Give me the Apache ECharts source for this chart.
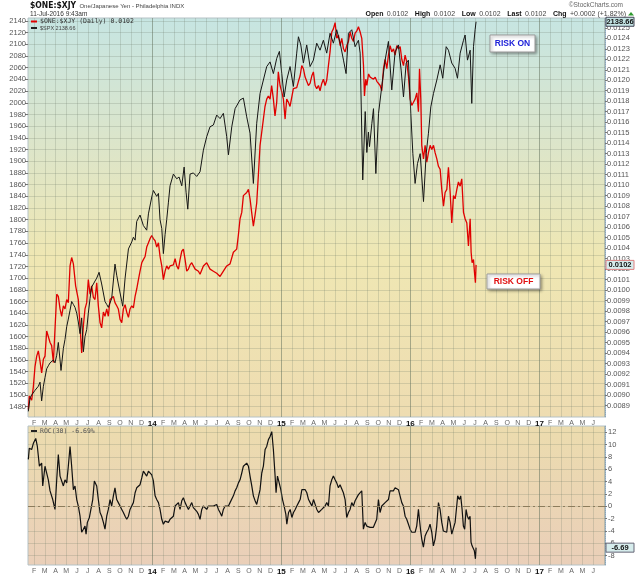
<!DOCTYPE html>
<html><head><meta charset="utf-8">
<script src="https://cdn.jsdelivr.net/npm/echarts@6/dist/echarts.min.js"></script>
<style>html,body{margin:0;padding:0;background:#fff}#c{width:640px;height:576px}</style>
</head><body><div id="c"></div>
<script>
// x positions are in months since 1 Jan 2013
const spxMonth = [0.47,0.63,0.78,0.94,1.09,1.25,1.40,1.56,1.71,1.87,
2.02,2.18,2.33,2.49,2.64,2.80,2.95,3.11,3.26,3.42,
3.51,3.73,3.88,4.04,4.19,4.35,4.50,4.66,4.81,4.97,
5.12,5.28,5.43,5.59,5.74,5.90,6.05,6.21,6.36,6.52,
6.67,6.83,7.05,7.29,7.60,7.76,7.91,8.22,8.53,8.69,
8.84,9.16,9.25,9.47,9.78,10.09,10.24,10.40,10.55,10.86,
11.17,11.48,11.64,11.95,12.10,12.41,12.57,12.72,12.88,13.03,
13.19,13.34,13.50,13.65,13.96,14.27,14.49,14.74,14.96,15.14,
15.30,15.51,15.82,16.13,16.44,16.75,17.06,17.37,17.68,17.99,
18.30,18.61,18.92,19.08,19.39,19.70,20.16,20.47,20.78,21.09,
21.40,21.71,22.02,22.33,22.64,22.95,23.26,23.57,23.82,24.04,
24.26,24.50,24.81,25.12,25.43,25.59,25.81,26.05,26.36,26.67,
26.98,27.29,27.60,27.91,28.22,28.53,28.84,29.15,29.47,29.78,
30.02,30.24,30.55,30.86,31.17,31.33,31.57,31.80,31.95,32.10,
32.20,32.42,32.57,32.79,33.04,33.34,33.65,33.96,34.27,34.58,
34.89,35.14,35.36,35.61,35.82,36.04,36.23,36.44,36.66,36.91,
37.22,37.47,37.68,37.90,38.15,38.46,38.77,39.01,39.33,39.54,
39.85,40.16,40.38,40.63,40.94,41.09,41.31,41.56,41.71,41.87,
42.02,42.11];
const spxClose = [1472,1495,1500,1498,1508,1505,1515,1522,1490,1515,
1530,1545,1550,1555,1552,1560,1555,1568,1590,1560,
1542,1580,1595,1617,1630,1645,1660,1655,1650,1640,
1625,1605,1632,1574,1600,1612,1640,1665,1685,1690,
1695,1700,1710,1690,1660,1655,1650,1665,1724,1705,
1690,1660,1652,1700,1750,1762,1770,1765,1797,1808,
1790,1782,1810,1839,1850,1840,1845,1800,1785,1742,
1775,1800,1830,1858,1878,1870,1873,1858,1890,1847,
1818,1878,1880,1874,1882,1919,1942,1959,1962,1979,
1973,1982,1942,1911,1959,1990,2005,2008,1976,1948,
1862,1965,2016,2039,2062,2070,2050,2076,2088,2050,
2010,2039,2062,2028,2085,2113,2099,2068,2099,2062,
2073,2102,2090,2107,2085,2119,2102,2125,2102,2073,
2050,2119,2125,2096,2107,2085,1868,1985,1915,1950,
1925,1965,1990,1879,1982,2028,2073,2105,2022,2087,
2099,2056,2010,2068,2073,1982,1913,1862,1896,1913,
1831,1913,1948,1993,2016,2039,2065,2042,2096,2090,
2068,2059,2042,2085,2107,2116,2073,2090,1999,2096,
2125,2138.66];

const xjyMonth = [0.47,0.56,0.78,0.94,1.09,1.25,1.40,1.56,1.71,1.87,
2.02,2.18,2.33,2.49,2.64,2.80,2.95,3.11,3.26,3.42,
3.57,3.73,3.88,4.04,4.19,4.35,4.50,4.66,4.87,5.12,
5.28,5.43,5.59,5.74,5.90,6.05,6.21,6.36,6.52,6.67,
6.83,6.98,7.14,7.29,7.45,7.60,7.76,7.91,8.07,8.22,
8.38,8.53,8.69,8.84,9.00,9.16,9.31,9.47,9.62,9.78,
9.93,10.09,10.24,10.40,10.55,10.71,10.86,11.02,11.17,11.33,
11.48,11.64,11.79,11.95,12.10,12.26,12.41,12.57,12.72,12.88,
13.03,13.19,13.34,13.50,13.65,13.81,13.96,14.12,14.27,14.43,
14.58,14.74,14.89,15.05,15.20,15.36,15.51,15.67,15.82,15.98,
16.13,16.29,16.44,16.75,17.06,17.37,17.68,17.99,18.30,18.61,
18.92,19.23,19.54,19.85,20.00,20.16,20.32,20.47,20.78,20.94,
21.09,21.24,21.40,21.55,21.71,21.86,22.02,22.17,22.33,22.48,
22.64,22.79,22.95,23.10,23.26,23.41,23.57,23.72,23.88,24.04,
24.19,24.35,24.50,24.66,24.81,24.97,25.12,25.28,25.43,25.59,
25.74,25.90,26.05,26.21,26.36,26.52,26.67,26.83,26.98,27.14,
27.29,27.45,27.60,27.76,27.91,28.07,28.22,28.38,28.53,28.69,
28.84,29.00,29.15,29.31,29.47,29.62,29.78,29.93,30.08,30.24,
30.40,30.55,30.71,30.86,31.02,31.17,31.33,31.48,31.64,31.73,
31.85,31.95,32.11,32.26,32.42,32.57,32.73,32.88,33.04,33.19,
33.34,33.50,33.65,33.81,33.96,34.12,34.27,34.43,34.58,34.74,
34.89,35.05,35.20,35.36,35.51,35.67,35.82,35.98,36.13,36.29,
36.44,36.60,36.75,36.85,36.97,37.06,37.22,37.37,37.53,37.68,
37.84,37.99,38.15,38.30,38.46,38.61,38.77,38.92,39.08,39.23,
39.39,39.54,39.70,39.85,40.01,40.16,40.32,40.47,40.63,40.78,
40.94,41.09,41.25,41.40,41.56,41.65,41.74,41.87,41.96,42.05,
42.11];
const xjyClose = [0.00886,0.00899,0.00895,0.00908,0.00927,0.00937,0.00942,0.00932,0.00921,0.00934,
0.00937,0.00961,0.00961,0.00950,0.00947,0.00931,0.00931,0.00996,0.00994,0.00982,
0.00975,0.00985,0.00982,0.00991,0.00988,0.01023,0.01031,0.01025,0.01004,0.00991,
0.00966,0.00940,0.00966,0.00982,0.00988,0.01010,0.00996,0.01004,0.00993,0.00991,
0.01007,0.00985,0.00969,0.00964,0.00979,0.00975,0.00982,0.00975,0.00991,0.00991,
0.00994,0.00988,0.00985,0.00982,0.00972,0.00969,0.00982,0.00986,0.00979,0.00974,
0.00982,0.00985,0.00983,0.00994,0.01001,0.01010,0.01018,0.01026,0.01029,0.01032,
0.01041,0.01045,0.01049,0.01052,0.01049,0.01047,0.01041,0.01045,0.01032,0.01023,
0.01010,0.01018,0.01023,0.01020,0.01023,0.01022,0.01024,0.01030,0.01023,0.01020,
0.01029,0.01037,0.01039,0.01029,0.01018,0.01020,0.01024,0.01026,0.01023,0.01020,
0.01021,0.01018,0.01015,0.01023,0.01026,0.01020,0.01018,0.01016,0.01013,0.01018,
0.01023,0.01025,0.01036,0.01039,0.01052,0.01068,0.01074,0.01090,0.01093,0.01096,
0.01087,0.01074,0.01061,0.01071,0.01083,0.01109,0.01138,0.01150,0.01163,0.01175,
0.01182,0.01185,0.01182,0.01195,0.01182,0.01166,0.01179,0.01208,0.01195,0.01189,
0.01182,0.01163,0.01182,0.01179,0.01175,0.01174,0.01192,0.01192,0.01193,0.01199,
0.01204,0.01214,0.01211,0.01203,0.01204,0.01195,0.01197,0.01204,0.01208,0.01195,
0.01192,0.01195,0.01190,0.01197,0.01201,0.01195,0.01200,0.01214,0.01227,0.01246,
0.01249,0.01255,0.01240,0.01243,0.01233,0.01240,0.01230,0.01227,0.01233,0.01237,
0.01246,0.01240,0.01237,0.01245,0.01247,0.01251,0.01246,0.01240,0.01214,0.01185,
0.01201,0.01195,0.01206,0.01203,0.01204,0.01201,0.01203,0.01199,0.01198,0.01195,
0.01190,0.01211,0.01220,0.01211,0.01224,0.01233,0.01227,0.01230,0.01224,0.01233,
0.01230,0.01232,0.01220,0.01214,0.01224,0.01217,0.01204,0.01182,0.01176,0.01179,
0.01182,0.01188,0.01170,0.01211,0.01182,0.01138,0.01125,0.01138,0.01122,0.01131,
0.01138,0.01134,0.01138,0.01131,0.01125,0.01118,0.01115,0.01096,0.01080,0.01093,
0.01096,0.01117,0.01093,0.01064,0.01090,0.01087,0.01096,0.01103,0.01099,0.01106,
0.01074,0.01068,0.01064,0.01042,0.01068,0.01036,0.01026,0.01029,0.01017,0.01007,
0.01024];

const rocMonth = [0.47,0.56,0.78,0.94,1.16,1.31,1.50,1.71,1.81,2.02,
2.18,2.33,2.49,2.74,2.95,3.11,3.26,3.42,3.57,3.73,
3.88,4.04,4.19,4.35,4.50,4.66,4.81,4.97,5.12,5.28,
5.43,5.59,5.74,5.84,5.96,6.15,6.27,6.46,6.61,6.83,
6.98,7.14,7.29,7.45,7.60,7.76,7.91,8.07,8.22,8.38,
8.53,8.69,8.84,9.00,9.16,9.31,9.47,9.62,9.78,9.93,
10.09,10.24,10.40,10.55,10.71,10.86,11.02,11.17,11.33,11.48,
11.64,11.79,11.95,12.10,12.26,12.41,12.57,12.72,12.88,13.03,
13.19,13.34,13.50,13.65,13.81,13.96,14.12,14.27,14.43,14.58,
14.74,14.89,15.05,15.20,15.36,15.51,15.67,15.82,15.98,16.13,
16.29,16.44,16.60,16.75,16.91,17.06,17.22,17.37,17.68,17.99,
18.15,18.30,18.46,18.61,18.77,18.92,19.08,19.23,19.39,19.54,
19.70,19.85,20.01,20.16,20.32,20.47,20.63,20.78,20.94,21.09,
21.25,21.40,21.56,21.71,21.87,22.02,22.18,22.33,22.49,22.64,
22.80,22.95,23.11,23.26,23.42,23.51,23.64,23.80,23.95,24.11,
24.26,24.42,24.51,24.67,24.82,24.98,25.13,25.29,25.44,25.60,
25.75,25.91,26.06,26.22,26.37,26.53,26.68,26.84,26.99,27.15,
27.30,27.46,27.61,27.76,27.91,28.07,28.22,28.38,28.53,28.69,
28.84,29.00,29.15,29.31,29.46,29.62,29.77,29.93,30.08,30.24,
30.39,30.55,30.70,30.86,31.01,31.17,31.32,31.48,31.63,31.79,
31.94,32.10,32.25,32.41,32.56,32.72,32.87,33.03,33.18,33.34,
33.49,33.65,33.80,33.96,34.11,34.27,34.42,34.58,34.73,34.89,
35.04,35.20,35.35,35.51,35.66,35.82,35.97,36.13,36.28,36.44,
36.59,36.75,36.84,36.96,37.06,37.21,37.37,37.52,37.68,37.83,
37.99,38.14,38.30,38.45,38.61,38.76,38.92,39.07,39.23,39.38,
39.54,39.69,39.85,40.00,40.16,40.31,40.40,40.56,40.68,40.81,
40.93,41.05,41.18,41.30,41.43,41.55,41.64,41.74,41.86,41.95,
42.05,42.11];
const rocValue = [7.6,9.4,9.2,10.2,11.0,9.7,6.5,7.0,3.3,6.5,
6.7,4.3,2.5,1.1,-0.5,4.3,8.4,4.9,4.9,3.3,
4.3,3.8,6.5,9.7,6.5,2.7,3.3,1.1,0.05,-1.6,
-4.2,-3.7,-3.2,-4.5,-2.6,-1.8,-1.6,1.1,4.1,3.3,
1.1,-1.0,-1.6,-2.6,-3.7,-1.6,-0.5,1.1,0.05,1.7,
3.0,1.1,0.6,0.05,-0.5,-1.0,-1.6,-2.1,-1.6,-0.5,
-0.2,0.6,2.2,3.0,3.3,3.5,4.6,5.7,5.4,4.9,
5.7,5.7,5.1,4.1,1.7,1.1,0.6,-0.5,-2.1,-2.9,
-2.4,-2.1,-2.6,-2.1,-1.8,-1.6,0.05,-0.2,0.6,-0.5,
0.9,1.4,0.6,0.05,-0.5,0.05,0.6,-0.2,-0.5,-0.8,
-1.3,-2.1,-0.5,0.05,-0.2,-0.5,0.05,-0.2,0.05,0.3,
-0.5,-1.0,-1.6,-0.5,0.05,0.3,0.05,0.6,0.9,1.7,
2.5,3.0,3.8,4.3,5.4,6.5,6.7,7.0,6.5,4.9,
3.3,1.7,0.9,0.3,0.6,2.7,5.4,6.5,9.2,9.7,
10.8,11.3,12.1,9.2,4.9,2.2,4.9,3.8,2.7,1.1,
0.05,-1.3,-2.9,-1.0,-0.5,-1.8,-1.0,-0.5,0.05,0.6,
1.1,2.7,3.0,2.7,2.2,1.1,0.6,0.05,1.1,1.1,
-0.5,-1.0,-1.3,-0.5,-0.2,0.05,0.6,0.05,3.3,4.3,
4.9,4.3,3.8,3.0,3.5,3.8,2.2,1.1,-1.8,-1.0,
-0.5,0.6,0.05,0.9,1.1,1.9,1.7,2.5,-3.7,-2.6,
-3.2,-2.9,-3.4,-3.2,-3.4,-3.2,-2.1,1.1,-1.0,0.05,
0.3,0.6,0.9,1.1,2.5,2.7,2.5,3.0,3.3,2.7,
1.7,0.6,0.05,-1.6,-2.1,-2.9,-3.7,-4.2,-4.5,-4.2,
-3.2,-0.5,-2.1,-4.0,-5.3,-6.6,-4.8,-4.2,-3.7,-2.9,
-4.2,-6.4,-5.3,-3.2,0.6,-0.5,-2.6,-4.0,-3.7,-4.2,
-1.6,-2.6,-4.5,-4.8,-2.6,0.05,1.7,1.1,1.7,-0.5,
-3.2,-3.7,-0.5,-1.6,-2.1,-1.6,-5.8,-6.4,-6.6,-7.2,
-8.5,-6.69];

// tick labels
const monthLetters = ['J','F','M','A','M','J','J','A','S','O','N','D'];
const monthTicks = []; for (let i = 1; i <= 54; i++) monthTicks.push(i);
const spxTicks = []; for (let v = 1480; v <= 2140; v += 20) spxTicks.push(v);
const xjyTicks = []; for (let i = 0; i <= 36; i++) xjyTicks.push(+(0.0089 + i * 0.0001).toFixed(4));
const rocTicks = []; for (let v = -8; v <= 12; v += 2) rocTicks.push(v);
const yearStarts = [12, 24, 36, 48];

const zip = (a, b) => a.map((x, i) => [x, b[i]]);
const FONT = "'Liberation Sans', Arial, sans-serif";
const GRID_C = 'rgba(105,120,100,0.22)';

function monthFmt(v) {
  const i = Math.round(v);
  const m = ((i % 12) + 12) % 12;
  if (m === 0) return '{y|' + String(13 + i / 12) + '}';
  return monthLetters[m];
}
const xLabel = {
  customValues: monthTicks.slice(0, 53), formatter: monthFmt, fontSize: 7, color: '#666',
  fontFamily: FONT, margin: 3, rich: { y: { fontSize: 8, fontWeight: 'bold', color: '#111', fontFamily: FONT } }
};
const yearLines = (c) => ({
  silent: true, symbol: 'none', label: { show: false },
  lineStyle: { color: c, type: 'solid', width: 1 },
  data: yearStarts.map(v => ({ xAxis: v }))
});

const chart = echarts.init(document.getElementById('c'), null, { renderer: 'canvas' });
const option = {
  animation: false,
  backgroundColor: '#ffffff',
  grid: [
    { left: 28, right: 35, top: 18, height: 399, show: true, borderColor: '#b5c2c6', borderWidth: 1,
      backgroundColor: { type: 'linear', x: 0, y: 0, x2: 0, y2: 1, colorStops: [
        { offset: 0, color: '#c6e5e2' }, { offset: 0.3, color: '#dbe5cb' },
        { offset: 0.6, color: '#efe7b3' }, { offset: 1, color: '#eedcb1' }] } },
    { left: 28, right: 35, top: 426, height: 140, show: true, borderColor: '#b5c2c6', borderWidth: 1,
      backgroundColor: { type: 'linear', x: 0, y: 0, x2: 0, y2: 1, colorStops: [
        { offset: 0, color: '#ecdcae' }, { offset: 1, color: '#eacfb9' }] } }
  ],
  xAxis: [
    { type: 'value', gridIndex: 0, min: 0.44, max: 54.1, axisLine: { show: false },
      axisTick: { show: false, customValues: monthTicks }, axisLabel: xLabel,
      splitLine: { show: true, lineStyle: { color: GRID_C, width: 1 } } },
    { type: 'value', gridIndex: 1, min: 0.44, max: 54.1, axisLine: { show: false },
      axisTick: { show: false, customValues: monthTicks }, axisLabel: xLabel,
      splitLine: { show: true, lineStyle: { color: GRID_C, width: 1 } } }
  ],
  yAxis: [
    { type: 'value', gridIndex: 0, position: 'left', min: 1462.4, max: 2145.1,
      axisLine: { show: false },
      axisTick: { show: true, length: 3, customValues: spxTicks, lineStyle: { color: '#777' } },
      axisLabel: { customValues: spxTicks, formatter: v => String(v), fontSize: 7.5, color: '#555', fontFamily: FONT, margin: 2 },
      splitLine: { show: true, lineStyle: { color: GRID_C, width: 1 } } },
    { type: 'value', gridIndex: 0, position: 'right', min: 0.0087899, max: 0.0125935,
      axisLine: { show: true, lineStyle: { color: '#8aa6bb', type: 'dotted' } },
      axisTick: { show: true, length: 2, customValues: xjyTicks, lineStyle: { color: '#777' } },
      axisLabel: { customValues: xjyTicks, formatter: v => v.toFixed(4), fontSize: 7.5, color: '#555', fontFamily: FONT, margin: 2 },
      splitLine: { show: false } },
    { type: 'value', gridIndex: 1, position: 'right', min: -9.5, max: 13.01,
      axisLine: { show: true, lineStyle: { color: '#8aa6bb', type: 'dotted' } },
      axisTick: { show: true, length: 2, customValues: rocTicks, lineStyle: { color: '#777' } },
      axisLabel: { customValues: rocTicks, formatter: v => String(v), fontSize: 7.5, color: '#555', fontFamily: FONT, margin: 3 },
      splitLine: { show: true, lineStyle: { color: GRID_C, width: 1 } } }
  ],
  series: [
    { name: '$ONE:$XJY', type: 'line', xAxisIndex: 0, yAxisIndex: 1, data: zip(xjyMonth, xjyClose),
      showSymbol: false, symbol: 'none', lineStyle: { color: '#e00000', width: 1.3 }, z: 2,
      markLine: yearLines('rgba(95,110,90,0.38)') },
    { name: '$SPX', type: 'line', xAxisIndex: 0, yAxisIndex: 0, data: zip(spxMonth, spxClose),
      showSymbol: false, symbol: 'none', lineStyle: { color: '#151515', width: 1 }, z: 3 },
    { name: 'ROC(30)', type: 'line', xAxisIndex: 1, yAxisIndex: 2, data: zip(rocMonth, rocValue),
      showSymbol: false, symbol: 'none', lineStyle: { color: '#111', width: 1.2 }, z: 3,
      markLine: { silent: true, symbol: 'none', label: { show: false },
        data: [{ yAxis: 0, lineStyle: { color: '#8c7c5c', type: [7, 3, 2, 3], width: 1 } }]
          .concat(yearStarts.map(v => ({ xAxis: v, lineStyle: { color: 'rgba(95,110,90,0.38)', type: 'solid', width: 1 } }))) } }
  ]
};
chart.setOption(option);

const ySpx = chart.convertToPixel({ yAxisIndex: 0 }, spxClose[spxClose.length - 1]);
const yXjy = chart.convertToPixel({ yAxisIndex: 1 }, xjyClose[xjyClose.length - 1]);
const yRoc = chart.convertToPixel({ yAxisIndex: 2 }, rocValue[rocValue.length - 1]);

const txt = (x, y, text, o, z) => ({ type: 'text', x, y, silent: true, z: z || 120,
  style: Object.assign({ text, fontFamily: FONT, fontSize: 7, fill: '#333', textAlign: 'left', textVerticalAlign: 'middle' }, o || {}) });
const seg = (x1, y, x2, c) => ({ type: 'line', silent: true, z: 100, shape: { x1, y1: y, x2, y2: y }, style: { stroke: c, lineWidth: 2 } });
const valBox = (y, text, fill, stroke) => ([
  { type: 'rect', silent: true, z: 110, shape: { x: 606, y: y - 4.5, width: 28, height: 9 }, style: { fill, stroke, lineWidth: 1 } },
  txt(620, y + 0.5, text, { textAlign: 'center', fontSize: 7.5, fontWeight: 'bold', fill: '#111' }, 130)
]);
const noteBox = (x, y, w, h, text, color) => ([
  { type: 'rect', silent: true, z: 110, shape: { x, y, width: w, height: h },
    style: { fill: '#ffffff', stroke: '#9a9a9a', lineWidth: 1, shadowBlur: 3, shadowOffsetX: 1.5, shadowOffsetY: 1.5, shadowColor: 'rgba(0,0,0,0.35)' } },
  txt(x + w / 2, y + h / 2 + 0.5, text, { textAlign: 'center', fontSize: 8.5, fontWeight: 'bold', fill: color }, 130)
]);

chart.setOption({ graphic: [].concat(
  [
    { type: 'text', x: 30, y: 6, silent: true, z: 100, style: {
      text: '{a|$ONE:$XJY} {b|One/Japanese Yen - Philadelphia INDX}', textVerticalAlign: 'middle',
      rich: { a: { fontSize: 8.5, fontWeight: 'bold', fontFamily: "'DejaVu Sans Condensed', 'Liberation Sans Narrow', " + FONT, fill: '#111', color: '#111' },
              b: { fontSize: 6, fontFamily: FONT, fill: '#444', color: '#444' } } } },
    txt(30, 14, '11-Jul-2016 9:43am', { fontSize: 6.5, fill: '#333' }),
    txt(623, 5, '©StockCharts.com', { textAlign: 'right', fontSize: 6.5, fill: '#666' }),
    { type: 'text', x: 626, y: 14, silent: true, z: 100, style: {
      text: '{k|Open} {v|0.0102}  {k|High} {v|0.0102}  {k|Low} {v|0.0102}  {k|Last} {v|0.0102}  {k|Chg} {v|+0.0002 (+1.82%)}',
      textAlign: 'right', textVerticalAlign: 'middle',
      rich: { k: { fontSize: 7, fontWeight: 'bold', fontFamily: FONT, fill: '#111', color: '#111' },
              v: { fontSize: 7, fontFamily: FONT, fill: '#444', color: '#444' } } } },
    { type: 'polygon', silent: true, z: 100, shape: { points: [[628, 15.5], [634, 15.5], [631, 12]] }, style: { fill: '#2f9a2f' } },
    seg(31, 21.5, 37, '#e00000'),
    txt(40, 21.5, '$ONE:$XJY (Daily) 0.0102', { fontFamily: "'DejaVu Sans Mono', monospace", fontSize: 6.5, fill: '#333' }),
    seg(31, 28, 37, '#222'),
    txt(40, 28, '$SPX 2138.66', { fontSize: 5.5, fill: '#444' }),
    seg(31, 431, 37, '#222'),
    txt(40, 431, 'ROC(30) -6.69%', { fontFamily: "'DejaVu Sans Mono', monospace", fontSize: 6.5, fill: '#555' })
  ],
  noteBox(490, 35, 45, 17, 'RISK ON', '#1f22d8'),
  noteBox(487, 274, 53, 15, 'RISK OFF', '#e01010'),
  valBox(ySpx, '2138.66', '#c2e3e3', '#445'),
  valBox(yXjy, '0.0102', '#d6ecec', '#e08080'),
  valBox(yRoc, '-6.69', '#d6ecec', '#667')
) });
</script>
</body></html>
